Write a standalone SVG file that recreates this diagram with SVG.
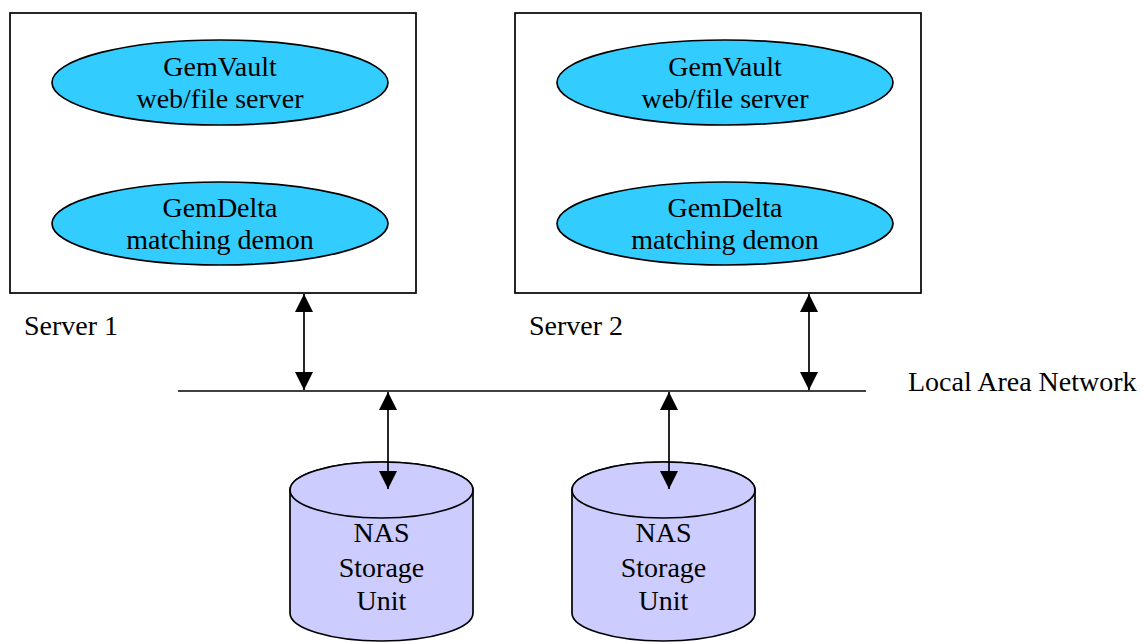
<svg xmlns="http://www.w3.org/2000/svg" width="1143" height="642" viewBox="0 0 1143 642">
  <style>
    .box { fill: #ffffff; stroke: #000000; stroke-width: 1.7; }
    .proc { fill: #33ccff; stroke: #000000; stroke-width: 1.7; }
    .disk { fill: #ccccff; stroke: #000000; stroke-width: 1.7; }
    .wire { stroke: #000000; stroke-width: 1.7; fill: none; }
    .link { stroke: #000000; stroke-width: 1.7; fill: none; marker-start: url(#head); marker-end: url(#head); }
    text { font-family: "Liberation Serif", "Times New Roman", serif; fill: #000000; font-size: 28px; }
    .lbl { text-anchor: middle; }
  </style>
  <defs>
    <marker id="head" viewBox="0 0 18 18" refX="18" refY="9" markerWidth="18" markerHeight="18" markerUnits="userSpaceOnUse" orient="auto-start-reverse">
      <path d="M0,0 L18,9 L0,18 Z" fill="#000000"/>
    </marker>
  </defs>

  <!-- Server 1 -->
  <g id="server1">
    <rect class="box" x="10" y="13" width="406" height="280"/>
    <text x="24" y="335">Server 1</text>
  </g>
  <g id="gemvault1">
    <ellipse class="proc" cx="220" cy="82.5" rx="168" ry="42.5"/>
    <text class="lbl" x="220" y="76">GemVault</text>
    <text class="lbl" x="220" y="108">web/file server</text>
  </g>
  <g id="gemdelta1">
    <ellipse class="proc" cx="220" cy="223.5" rx="168" ry="41.5"/>
    <text class="lbl" x="220" y="217">GemDelta</text>
    <text class="lbl" x="220" y="249">matching demon</text>
  </g>

  <!-- Server 2 -->
  <g id="server2">
    <rect class="box" x="515" y="13" width="406" height="280"/>
    <text x="529" y="335">Server 2</text>
  </g>
  <g id="gemvault2">
    <ellipse class="proc" cx="725" cy="82.5" rx="168" ry="42.5"/>
    <text class="lbl" x="725" y="76">GemVault</text>
    <text class="lbl" x="725" y="108">web/file server</text>
  </g>
  <g id="gemdelta2">
    <ellipse class="proc" cx="725" cy="223.5" rx="168" ry="41.5"/>
    <text class="lbl" x="725" y="217">GemDelta</text>
    <text class="lbl" x="725" y="249">matching demon</text>
  </g>

  <!-- Local area network bus -->
  <g id="lan">
    <line class="wire" x1="178" y1="391" x2="866" y2="391"/>
    <text x="908" y="391">Local Area Network</text>
  </g>

  <!-- NAS storage units -->
  <g id="nas1">
    <path class="disk" d="M290,490 L290,613 A91.5,28 0 0 0 473,613 L473,490 A91.5,28 0 0 0 290,490 Z"/>
    <ellipse class="disk" cx="381.5" cy="490" rx="91.5" ry="28"/>
    <text class="lbl" x="381.5" y="542">NAS</text>
    <text class="lbl" x="381.5" y="577">Storage</text>
    <text class="lbl" x="381.5" y="610">Unit</text>
  </g>
  <g id="nas2">
    <path class="disk" d="M572,490 L572,613 A91.5,28 0 0 0 755,613 L755,490 A91.5,28 0 0 0 572,490 Z"/>
    <ellipse class="disk" cx="663.5" cy="490" rx="91.5" ry="28"/>
    <text class="lbl" x="663.5" y="542">NAS</text>
    <text class="lbl" x="663.5" y="577">Storage</text>
    <text class="lbl" x="663.5" y="610">Unit</text>
  </g>

  <!-- Connectors -->
  <g id="connectors">
    <line class="link" x1="304" y1="294" x2="304" y2="390"/>
    <line class="link" x1="809" y1="294" x2="809" y2="390"/>
    <line class="link" x1="388" y1="392" x2="388" y2="489"/>
    <line class="link" x1="669" y1="392" x2="669" y2="489"/>
  </g>
</svg>
